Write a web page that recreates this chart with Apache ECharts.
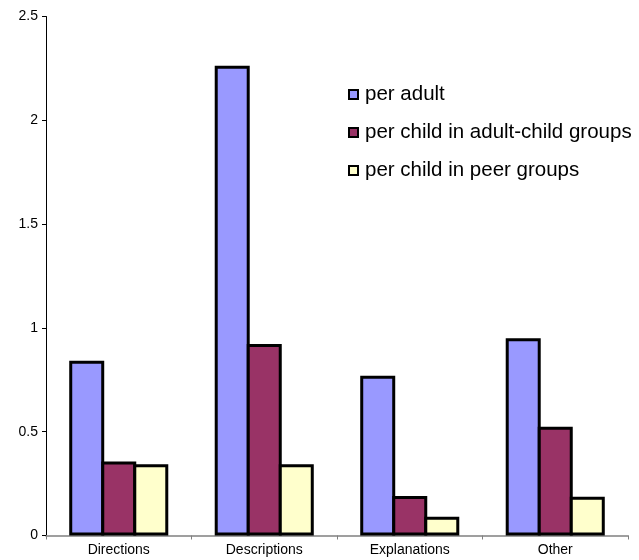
<!DOCTYPE html>
<html>
<head>
<meta charset="utf-8">
<script src="https://cdn.jsdelivr.net/npm/echarts@6/dist/echarts.min.js"></script>
<style>
  html, body { margin: 0; padding: 0; background: #fff; }
  #chart { width: 639px; height: 560px; }
</style>
</head>
<body>
<div id="chart"></div>
<script>
// Utterance categories and average counts per speaker type
const categories = ['Directions', 'Descriptions', 'Explanations', 'Other'];
const perAdult = [0.842, 2.263, 0.77, 0.95];
const perChildAdultGroups = [0.357, 0.922, 0.19, 0.524];
const perChildPeerGroups = [0.343, 0.343, 0.09, 0.187];
const seriesNames = ['per adult', 'per child in adult-child groups', 'per child in peer groups'];
const yTicks = [0, 0.5, 1, 1.5, 2, 2.5];

const colors = ['#9999FF', '#993366', '#FFFFCC'];
const values = [perAdult, perChildAdultGroups, perChildPeerGroups];

const chart = echarts.init(document.getElementById('chart'));
chart.setOption({
  animation: false,
  textStyle: { fontFamily: 'Liberation Sans, Arial, sans-serif' },
  grid: { left: 46, right: 11, top: 16.5, bottom: 24.5, containLabel: false },
  legend: {
    orient: 'vertical',
    left: 343,
    top: 79,
    itemWidth: 9,
    itemHeight: 9,
    itemGap: 17,
    icon: 'rect',
    data: seriesNames,
    itemStyle: { borderColor: '#000', borderWidth: 2 },
    textStyle: { fontSize: 20.5, color: '#000', padding: [0, 0, 0, 2] }
  },
  xAxis: {
    type: 'category',
    data: categories,
    axisLine: { lineStyle: { color: '#808080', width: 1.5 } },
    axisTick: { show: true, length: 4, lineStyle: { color: '#808080' } },
    axisLabel: { fontSize: 14, color: '#000', margin: 8 },
    splitLine: { show: false }
  },
  yAxis: {
    type: 'value',
    min: yTicks[0],
    max: yTicks[yTicks.length - 1],
    interval: 0.5,
    axisLine: { show: true, lineStyle: { color: '#000', width: 1 } },
    axisTick: { show: true, length: 4, lineStyle: { color: '#000' } },
    axisLabel: { fontSize: 14, color: '#000', margin: 8 },
    splitLine: { show: false }
  },
  series: seriesNames.map((name, i) => ({
    name: name,
    type: 'bar',
    data: values[i],
    barWidth: 35,
    barGap: '-8.5%',
    itemStyle: { color: colors[i], borderColor: '#000', borderWidth: 3 }
  }))
});
</script>
</body>
</html>
